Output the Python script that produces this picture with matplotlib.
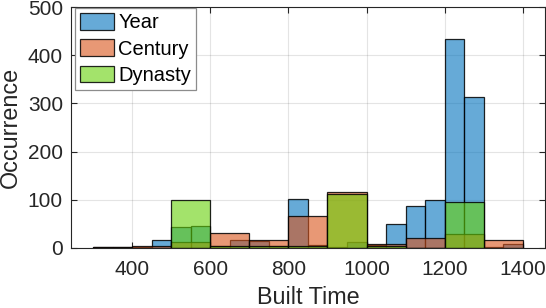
import numpy as np
import matplotlib
matplotlib.use('Agg')
import matplotlib.pyplot as plt

plt.rcParams['font.family'] = ['Liberation Sans', 'DejaVu Sans']

# бины по годам (шаг 50) и по векам / династиям (шаг 100)
year_edges = np.arange(300, 1401, 50)
year_counts = [1, 1, 2, 16, 43, 45, 4, 15, 14, 3, 101,
               5, 2, 12, 5, 49, 86, 99, 434, 313, 1, 7]

century_edges = np.arange(300, 1401, 100)
century_counts = [1, 4, 12, 31, 15, 66, 115, 8, 21, 28, 16]

dynasty_edges = np.arange(500, 1301, 100)
dynasty_counts = [99, 3, 3, 3, 112, 4, 0, 94]

labels = ['Year', 'Century', 'Dynasty']
colors = [(0.0, 0.447, 0.741), (0.85, 0.325, 0.098), (0.40, 0.82, 0.03)]

txt = '#262626'

fig = plt.figure(figsize=(5.46, 3.08), dpi=100)
ax = fig.add_axes([0.1306, 0.196, 0.8675, 0.78])

series = [(year_edges, year_counts), (century_edges, century_counts),
          (dynasty_edges, dynasty_counts)]
for (edges, counts), c, lab in zip(series, colors, labels):
    ax.hist(edges[:-1], bins=edges, weights=counts,
            facecolor=(*c, 0.6), edgecolor=(0, 0, 0, 0.85),
            linewidth=0.9, label=lab, zorder=2)

ax.set_xlim(244, 1457)
ax.set_ylim(0, 500)
ax.set_xticks(np.arange(400, 1401, 200))
ax.set_yticks(np.arange(0, 501, 100))

ax.grid(True, color='#262626', alpha=0.12, linewidth=0.8, zorder=0)
ax.set_axisbelow(True)
ax.tick_params(direction='in', top=True, right=True, labelsize=15,
               colors=txt, length=4, width=0.8)
ax.tick_params(axis='x', pad=9)
ax.tick_params(axis='y', pad=6)
for s in ax.spines.values():
    s.set_color('#262626')
    s.set_linewidth(0.8)

ax.set_xlabel('Built Time', fontsize=16.8, color=txt, labelpad=5)
ax.set_ylabel('Occurrence', fontsize=16.8, color=txt, labelpad=4)

leg = ax.legend(loc='upper left', bbox_to_anchor=(0.008, 0.998),
                borderaxespad=0, fontsize=14.5, fancybox=False,
                framealpha=1, edgecolor='#8c8c8c', handlelength=1.7,
                handleheight=0.9, handletextpad=0.2, labelspacing=0.35,
                borderpad=0.25)
for t in leg.get_texts():
    t.set_color('black')
leg.get_frame().set_linewidth(0.9)

fig.savefig('out.png', dpi=100)
